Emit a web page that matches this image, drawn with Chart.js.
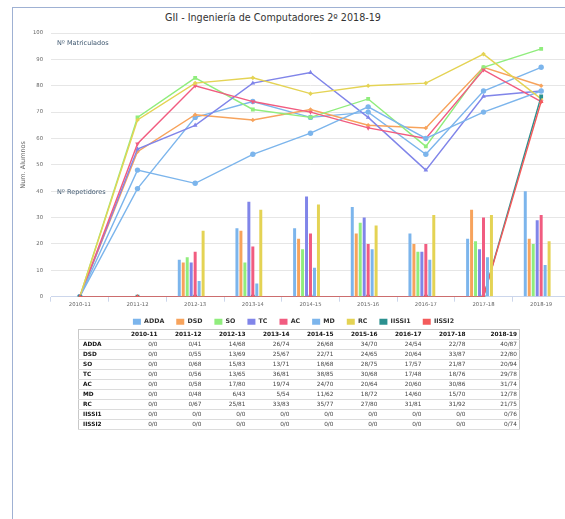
<!DOCTYPE html>
<html>
<head>
<meta charset="utf-8">
<script src="https://cdn.jsdelivr.net/npm/chart.js@4.4.0/dist/chart.umd.min.js"></script>
<style>
  html, body { margin: 0; padding: 0; width: 565px; height: 519px; overflow: hidden; background: #fff; font-family: "DejaVu Sans", sans-serif; }
  #panel { position: absolute; left: 12px; top: 7px; width: 600px; height: 600px; border-left: 1px solid #9fb1d3; border-top: 1px solid #9fb1d3; }
  #title { position: absolute; left: 163px; width: 220px; top: 12px; text-align: center; font-size: 9.6px; line-height: 12px; color: #333; }
  #chart { position: absolute; left: 13px; top: 8px; }
  #tbl { position: absolute; left: 78px; top: 329px; border-collapse: collapse; font-size: 5.8px; border: 1px solid #c8c8c8; table-layout: fixed; width: 441px; }
  #tbl td, #tbl th { height: 9px; line-height: 9px; padding: 0 2px; border-bottom: 1px solid #dcdcdc; text-align: right; color: #444; white-space: nowrap; }
  #tbl th { color: #111; font-weight: bold; }
  #tbl td.name { text-align: left; color: #111; font-weight: bold; padding-left: 4px; }
</style>
</head>
<body>
<div id="panel"></div>
<div id="title">GII - Ingeniería de Computadores 2º 2018-19</div>
<canvas id="chart" width="561" height="327"></canvas>
<table id="tbl"></table>
<script>
// cursos y asignaturas
const categories = ["2010-11", "2011-12", "2012-13", "2013-14", "2014-15", "2015-16", "2016-17", "2017-18", "2018-19"];
const subjects = ["ADDA", "DSD", "SO", "TC", "AC", "MD", "RC", "IISSI1", "IISSI2"];
const yTicks = [0, 10, 20, 30, 40, 50, 60, 70, 80, 90, 100];

// Nº repetidores / Nº matriculados por asignatura
const repADDA = [0, 0, 14, 26, 26, 34, 24, 22, 40];
const matADDA = [0, 41, 68, 74, 68, 70, 54, 78, 87];
const repDSD = [0, 0, 13, 25, 22, 24, 20, 33, 22];
const matDSD = [0, 55, 69, 67, 71, 65, 64, 87, 80];
const repSO = [0, 0, 15, 13, 18, 28, 17, 21, 20];
const matSO = [0, 68, 83, 71, 68, 75, 57, 87, 94];
const repTC = [0, 0, 13, 36, 38, 30, 17, 18, 29];
const matTC = [0, 56, 65, 81, 85, 68, 48, 76, 78];
const repAC = [0, 0, 17, 19, 24, 20, 20, 30, 31];
const matAC = [0, 58, 80, 74, 70, 64, 60, 86, 74];
const repMD = [0, 0, 6, 5, 11, 18, 14, 15, 12];
const matMD = [0, 48, 43, 54, 62, 72, 60, 70, 78];
const repRC = [0, 0, 25, 33, 35, 27, 31, 31, 21];
const matRC = [0, 67, 81, 83, 77, 80, 81, 92, 75];
const repIISSI1 = [0, 0, 0, 0, 0, 0, 0, 0, 0];
const matIISSI1 = [0, 0, 0, 0, 0, 0, 0, 0, 76];
const repIISSI2 = [0, 0, 0, 0, 0, 0, 0, 0, 0];
const matIISSI2 = [0, 0, 0, 0, 0, 0, 0, 0, 74];

const repetidores = [repADDA, repDSD, repSO, repTC, repAC, repMD, repRC, repIISSI1, repIISSI2];
const matriculados = [matADDA, matDSD, matSO, matTC, matAC, matMD, matRC, matIISSI1, matIISSI2];

const colors = ["#7cb5ec", "#f7a35c", "#90ed7d", "#8085e9", "#f15c80", "#7cb5ec", "#e4d354", "#2b908f", "#f45b5b"];
const markers = ["circle", "rectRot", "rect", "triangle", "triangle", "circle", "rectRot", "rect", "triangle"];
const markerRot = [0, 0, 0, 0, 180, 0, 0, 0, 0];

Chart.defaults.font.family = "'DejaVu Sans', sans-serif";

// textos dentro del area del grafico
const notes = {
  id: "notes",
  beforeDatasetsDraw(chart) {
    const { ctx, chartArea } = chart;
    ctx.save();
    ctx.font = "6.5px 'DejaVu Sans'";
    ctx.fillStyle = "#3e576f";
    ctx.textBaseline = "middle";
    ctx.fillText("Nº Matriculados", chartArea.left + 6, chartArea.top + 10);
    ctx.fillText("Nº Repetidores", chartArea.left + 6, chartArea.top + 159);
    ctx.restore();
  },
};

const barSets = subjects.map((s, i) => ({
  type: "bar",
  label: s,
  data: repetidores[i],
  backgroundColor: colors[i],
  borderWidth: 0,
  order: -100,
  barPercentage: 0.75,
  categoryPercentage: 0.62,
}));

const lineSets = subjects.map((s, i) => ({
  type: "line",
  label: s + " matriculados",
  data: matriculados[i],
  borderColor: colors[i],
  backgroundColor: colors[i],
  borderWidth: 1.4,
  pointStyle: markers[i],
  pointRotation: markerRot[i],
  pointRadius: markers[i] === "rectRot" ? 2.3 : 2.7,
  pointBorderWidth: 0,
  tension: 0,
  fill: false,
  order: -i,
}));

new Chart(document.getElementById("chart"), {
  type: "bar",
  data: { labels: categories, datasets: [...barSets, ...lineSets] },
  options: {
    responsive: false,
    animation: false,
    layout: { padding: { top: 25, left: 0, right: 0, bottom: 0 } },
    plugins: {
      title: { display: false },
      tooltip: { enabled: false },
      legend: {
        position: "bottom",
        labels: {
          filter: (item) => item.datasetIndex < subjects.length,
          boxWidth: 8,
          boxHeight: 6,
          padding: 12,
          color: "#333",
          font: { size: 6.3, weight: "bold" },
        },
      },
    },
    scales: {
      x: {
        type: "category",
        offset: true,
        afterFit: (scale) => { scale.height = 10; },
        border: { display: true, color: "#ccd6eb" },
        grid: { offset: true, drawOnChartArea: false, drawTicks: true, tickLength: 5, tickColor: "#ccd6eb" },
        ticks: { padding: 0, color: "#666", font: { size: 5.3 }, maxRotation: 0 },
      },
      y: {
        min: 0,
        max: 100,
        afterFit: (scale) => { scale.width = 38; },
        afterBuildTicks: (scale) => { scale.ticks = yTicks.map((v) => ({ value: v })); },
        border: { display: false },
        grid: { color: "#e6e6e6", drawTicks: false },
        ticks: { padding: 8, color: "#666", font: { size: 5.3 } },
        title: { display: true, text: "Num. Alumnos", color: "#666", font: { size: 6.5 }, padding: { top: 6, bottom: 0 } },
      },
    },
  },
  plugins: [notes],
});

// tabla repetidores/matriculados
const tbl = document.getElementById("tbl");
const colW = [37, 44, 44, 44, 44, 44, 44, 44, 44, 52];
let html = "<colgroup>" + colW.map((w) => `<col style="width:${w}px">`).join("") + "</colgroup>";
html += "<tr><th></th>" + categories.map((c) => `<th>${c}</th>`).join("") + "</tr>";
subjects.forEach((s, i) => {
  html += `<tr><td class="name">${s}</td>` + categories.map((_, j) => `<td>${repetidores[i][j]}/${matriculados[i][j]}</td>`).join("") + "</tr>";
});
tbl.innerHTML = html;
</script>
</body>
</html>
